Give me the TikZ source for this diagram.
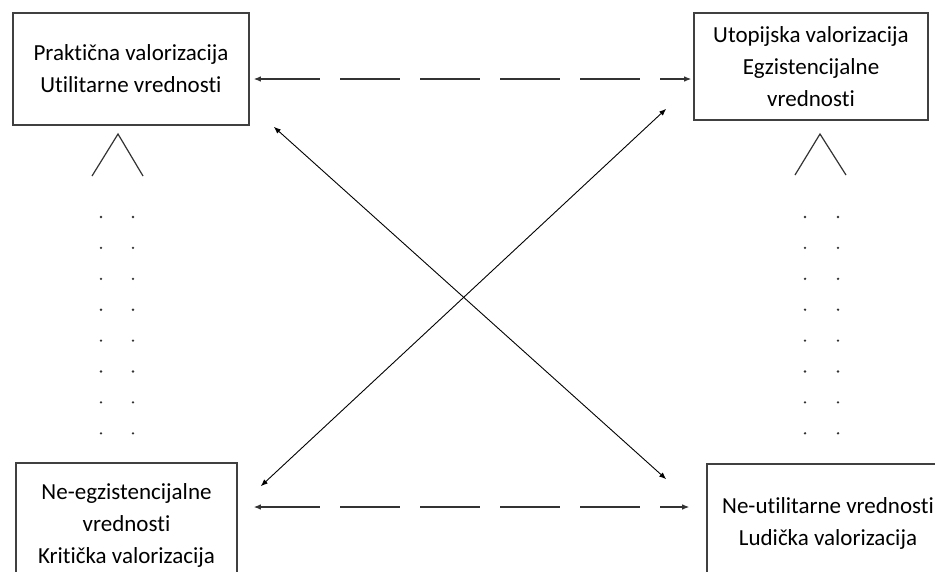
\documentclass[tikz,border=0pt]{standalone}
\usepackage{fontspec}
\setmainfont[Ligatures=NoCommon]{Carlito}
\usetikzlibrary{arrows.meta}
\tikzset{
  valbox/.style={rectangle, draw=black!75, line width=1.6pt, align=center, inner sep=0pt, font=\fontsize{23}{32}\selectfont},
  link/.style={line width=0.9pt, {Latex[length=7pt,width=5.5pt]}-{Latex[length=7pt,width=5.5pt]}},
  dashlink/.style={link, line width=1.1pt, black!80, dash pattern=on 60pt off 20pt}
}
\begin{document}
\begin{tikzpicture}[x=1pt, y=-1pt]
    \clip (0,0) rectangle (935,571);
    \fill[white] (0,0) rectangle (935,571);
    % Boxes
    \node [valbox, minimum width=236pt, minimum height=112pt] (prakticna) at (131,69) {Praktična valorizacija\\Utilitarne vrednosti};
    \node [valbox, minimum width=234pt, minimum height=107pt] (utopijska) at (811,66.5) {Utopijska valorizacija\\Egzistencijalne\\vrednosti};
    \node [valbox, minimum width=221pt, minimum height=124pt] (kriticka) at (126.5,525) {Ne-egzistencijalne\\vrednosti\\Kritička valorizacija};
    \node [valbox, minimum width=242pt, minimum height=118pt] (ludicka) at (828,523) {Ne-utilitarne vrednosti\\Ludička valorizacija};
    % Dashed links
    \draw[dashlink] ([xshift=4pt,yshift=-10pt]prakticna.east) -- ([xshift=-2pt,yshift=-12.5pt]utopijska.west);
    \draw[dashlink] ([xshift=16pt,yshift=18pt]kriticka.east) -- ([xshift=-17pt,yshift=16pt]ludicka.west);
    % Crossing links
    \draw[link] ([xshift=24pt,yshift=-1pt]prakticna.south east) -- ([xshift=-40pt,yshift=-16pt]ludicka.north west);
    \draw[link] ([xshift=-27pt,yshift=12pt]utopijska.south west) -- ([xshift=23pt,yshift=-24pt]kriticka.north east);
    % Wedges
    \draw[line width=1.2pt, black!80] (92,176) -- (118,134) -- (143,176);
    \draw[line width=1.2pt, black!80] (795,175) -- (820,134) -- (846,175);
    % Dots
    \foreach \x in {101,133,805,838} \foreach \k in {0,...,7} \fill[black!80] (\x,217+30.9*\k) circle (1.3pt);
\end{tikzpicture}
\end{document}
